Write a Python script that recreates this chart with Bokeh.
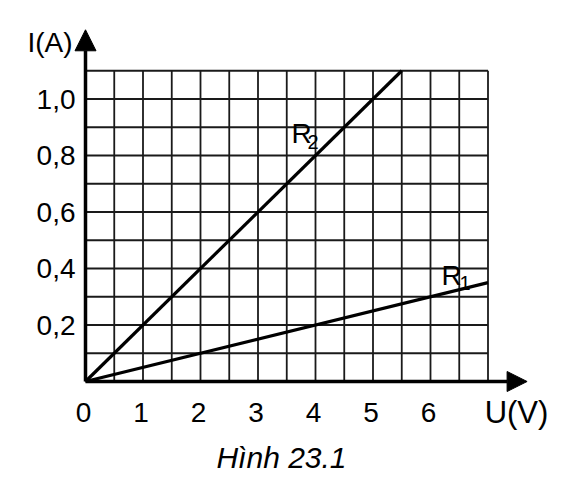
import numpy as np
from bokeh.plotting import figure
from bokeh.models import Arrow, NormalHead, ColumnDataSource
from bokeh.core.properties import value
from bokeh.embed import file_html
from bokeh.resources import INLINE

# ---- data ----
u_ticks = [0, 1, 2, 3, 4, 5, 6]
u_tick_labels = ["0", "1", "2", "3", "4", "5", "6"]
i_ticks = [0.2, 0.4, 0.6, 0.8, 1.0]
i_tick_labels = ["0,2", "0,4", "0,6", "0,8", "1,0"]
grid_u = [0.5 * k for k in range(1, 15)]      # vertical grid lines (V)
grid_i = [0.1 * k for k in range(1, 12)]      # horizontal grid lines (A)
grid_u_max = 7.0
grid_i_max = 1.1
r2_u = [0.0, 5.5]
r2_i = [0.0, 1.1]
r1_u = [0.0, 7.0]
r1_i = [0.0, 0.35]
u_axis_end = 7.68
i_axis_end = 1.245

FONT = "Liberation Sans"

# pixel geometry of the canvas (origin at px 85, 381; 57.5 px per V, 282.5 px per A)
W, H = 564, 481
OX, OY, SX, SY = 85.0, 381.0, 57.5, 282.5
x_range = (-OX / SX, (W - OX) / SX)
y_range = (-(H - OY) / SY, OY / SY)

p = figure(width=W, height=H, x_range=x_range, y_range=y_range,
           output_backend="svg", toolbar_location=None,
           x_axis_location=None, y_axis_location=None,
           min_border=0)
p.outline_line_color = None
p.background_fill_color = "white"
p.border_fill_color = "white"
p.xgrid.visible = False
p.ygrid.visible = False

# grid
p.segment(x0=grid_u, y0=[0] * len(grid_u), x1=grid_u, y1=[grid_i_max] * len(grid_u),
          line_color="#1a1a1a", line_width=1.8)
p.segment(x0=[0] * len(grid_i), y0=grid_i, x1=[grid_u_max] * len(grid_i), y1=grid_i,
          line_color="#1a1a1a", line_width=1.8)

# characteristic lines
p.line(r2_u, r2_i, line_color="black", line_width=3.2)
p.line(r1_u, r1_i, line_color="black", line_width=3.2)

# axes with arrows
p.add_layout(Arrow(end=NormalHead(size=20, fill_color="black", line_color="black", line_width=1),
                   x_start=0, y_start=0, x_end=u_axis_end, y_end=0,
                   line_width=3.5, line_color="black"))
p.add_layout(Arrow(end=NormalHead(size=21, fill_color="black", line_color="black", line_width=1),
                   x_start=0, y_start=0, x_end=0, y_end=i_axis_end,
                   line_width=3.5, line_color="black"))

# tick labels
xt = ColumnDataSource(dict(x=u_ticks, y=[-31.0 / SY] * len(u_ticks), t=u_tick_labels))
p.text(x="x", y="y", text="t", source=xt, x_offset=-2,
       text_font=value(FONT), text_font_size="28px", text_color="black",
       text_align="center", text_baseline="alphabetic")
yt = ColumnDataSource(dict(x=[-10.0 / SX] * len(i_ticks), y=i_ticks, t=i_tick_labels))
p.text(x="x", y="y", text="t", source=yt,
       text_font=value(FONT), text_font_size="28px", text_color="black",
       text_align="right", text_baseline="middle")

def lab(px, py, t, size, align="left", baseline="alphabetic", style="normal"):
    # px, py: canvas pixel position converted through the data scales
    p.text(x=[(px - OX) / SX], y=[(OY - py) / SY], text=[t],
           text_font=value(FONT), text_font_size=size, text_color="black",
           text_align=align, text_baseline=baseline, text_font_style=style)

lab(291, 133, "R", "28px")
lab(307, 141, "2", "20px")
lab(441, 275, "R", "28px")
lab(459, 282, "1", "20px")
lab(72, 42, "I(A)", "28px", align="right", baseline="middle")
lab(516, 412, "U(V)", "31px", align="center", baseline="middle")
lab(281, 457, "Hình 23.1", "30px", align="center", baseline="middle", style="italic")

open("out.html", "w").write(file_html(p, INLINE))
